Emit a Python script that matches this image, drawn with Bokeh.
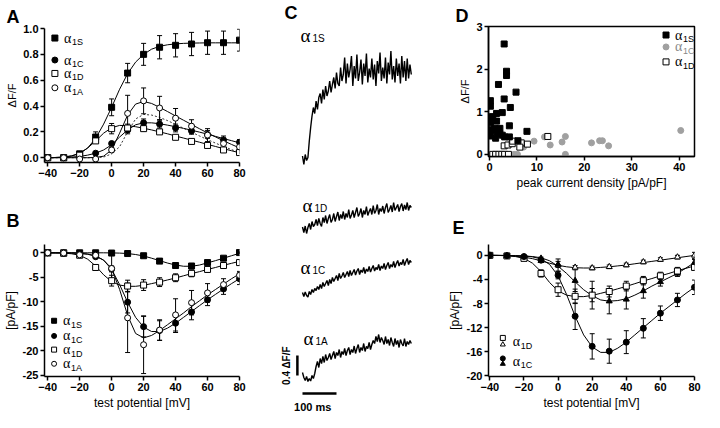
import math
from bokeh.plotting import figure
from bokeh.models import (ColumnDataSource, Whisker, TeeHead, Range1d, FixedTicker,
                          PrintfTickFormatter)
from bokeh.layouts import row, column
from bokeh.core.properties import value
from bokeh.embed import file_html
from bokeh.resources import INLINE

SANS = "Liberation Sans"
SERIF = "Liberation Serif"
GREY = "#a0a0a0"

# ---------------- data ----------------
V = [-40, -30, -20, -10, 0, 10, 20, 30, 40, 50, 60, 70, 80]
VC = [-40, -35, -30, -25, -20, -15, -10, -5, 0, 5, 10, 15, 20, 25, 30, 35, 40, 45, 50, 55, 60, 65, 70, 75, 80]

# Panel A: dF/F vs test potential
A_s = [0.0, 0.0, 0.03, 0.16, 0.39, 0.655, 0.80, 0.855, 0.87, 0.88, 0.89, 0.89, 0.91]
A_s_err = [0, 0, 0.01, 0.04, 0.065, 0.075, 0.085, 0.09, 0.09, 0.09, 0.09, 0.09, 0.085]
A_c = [0.0, 0.0, 0.01, 0.035, 0.11, 0.215, 0.27, 0.26, 0.23, 0.207, 0.18, 0.138, 0.12]
A_c_err = [0, 0, 0, 0.005, 0.01, 0.03, 0.03, 0.03, 0.03, 0.025, 0.03, 0.03, 0.02]
A_d = [0.0, 0.0, 0.02, 0.13, 0.225, 0.23, 0.225, 0.20, 0.158, 0.126, 0.095, 0.06, 0.04]
A_d_err = [0, 0, 0.005, 0.02, 0.04, 0.03, 0.02, 0.015, 0.015, 0.01, 0.01, 0.01, 0.01]
A_a = [0.0, 0.0, -0.01, -0.01, 0.06, 0.343, 0.44, 0.385, 0.306, 0.244, 0.175, 0.11, 0.084]
A_a_err = [0, 0, 0, 0, 0.02, 0.14, 0.10, 0.09, 0.075, 0.05, 0.05, 0.035, 0.03]

A_s_fit = [0.0, 0.002, 0.005, 0.013, 0.032, 0.075, 0.15, 0.26, 0.39, 0.53, 0.65, 0.74, 0.80,
           0.84, 0.862, 0.874, 0.881, 0.885, 0.887, 0.888, 0.889, 0.889, 0.889, 0.889, 0.889]
A_c_fit = [0.0, 0.001, 0.002, 0.005, 0.01, 0.02, 0.035, 0.06, 0.10, 0.16, 0.215, 0.255, 0.27,
           0.27, 0.263, 0.252, 0.24, 0.227, 0.213, 0.198, 0.182, 0.165, 0.148, 0.132, 0.115]
A_d_fit = [0.0, 0.002, 0.005, 0.015, 0.035, 0.075, 0.13, 0.19, 0.232, 0.25, 0.248, 0.24, 0.228,
           0.215, 0.2, 0.185, 0.168, 0.152, 0.136, 0.12, 0.103, 0.087, 0.07, 0.054, 0.038]
A_a_fit = [0.0, 0.0, 0.0, 0.0, 0.0, 0.0, 0.002, 0.012, 0.06, 0.19, 0.33, 0.415, 0.435,
           0.42, 0.39, 0.357, 0.323, 0.29, 0.257, 0.224, 0.192, 0.161, 0.131, 0.103, 0.076]
A_dash_fit = [0.0, 0.0, 0.0, 0.0, 0.0, 0.0, 0.0, 0.005, 0.03, 0.085, 0.2, 0.3, 0.335,
              0.33, 0.312, 0.287, 0.258, 0.228, 0.198, 0.168, 0.14, 0.113, 0.087, 0.063, 0.04]

# Panel B / E: current density
B_s = [0, 0, 0, 0, -0.05, -0.15, -0.6, -1.7, -2.6, -2.7, -2.0, -1.1, 0.05]
B_s_err = [0, 0, 0, 0, 0.05, 0.1, 0.15, 0.2, 0.25, 0.25, 0.2, 0.2, 0.15]
B_c = [0, -0.05, -0.2, -0.8, -3.3, -10.1, -15.1, -15.9, -14.4, -12.1, -9.6, -7.4, -5.3]
B_c_err = [0, 0, 0.1, 0.3, 0.6, 2.2, 2.1, 2.0, 1.9, 1.6, 1.2, 1.1, 1.2]
B_d = [0, -0.1, -0.5, -3.0, -5.7, -6.8, -6.6, -6.0, -5.1, -4.2, -3.4, -2.6, -2.0]
B_d_err = [0, 0.1, 0.2, 0.6, 1.1, 1.2, 1.1, 0.9, 0.8, 0.7, 0.6, 0.6, 0.5]
B_a = [0, -0.05, -0.4, -0.5, -3.2, -13.3, -18.8, -15.8, -12.7, -10.2, -8.2, -6.5, -4.6]
B_a_err = [0, 0, 0.2, 0.3, 2.9, 7.1, 5.9, 2.1, 3.3, 2.5, 1.9, 1.2, 0.8]

B_s_fit = [0, 0, 0, 0, 0, 0, 0, 0, -0.02, -0.06, -0.15, -0.35, -0.65,
           -1.1, -1.6, -2.1, -2.5, -2.75, -2.75, -2.5, -2.05, -1.6, -1.1, -0.6, -0.1]
B_c_fit = [0, -0.01, -0.02, -0.05, -0.1, -0.25, -0.6, -1.5, -3.4, -6.5, -10.1, -13.2, -15.2,
           -16.1, -16.1, -15.4, -14.4, -13.2, -12.0, -10.8, -9.6, -8.5, -7.4, -6.3, -5.3]
B_a_fit = [0, 0, -0.01, -0.03, -0.1, -0.3, -0.7, -1.5, -3.2, -7.5, -12.8, -16.5, -17.4,
           -16.9, -15.9, -14.7, -13.5, -12.3, -11.0, -9.8, -8.6, -7.5, -6.4, -5.3, -4.3]
B_d_fit = [0, -0.02, -0.05, -0.2, -0.5, -1.3, -2.7, -4.5, -5.9, -6.6, -6.85, -6.85, -6.65,
           -6.3, -5.95, -5.55, -5.15, -4.7, -4.25, -3.85, -3.4, -3.0, -2.55, -2.15, -1.75]

E_d_tri = [0, -0.1, -0.4, -0.9, -1.6, -2.0, -2.1, -1.9, -1.6, -1.1, -0.7, -0.3, 0.0]
E_d_tri_err = [0, 0.05, 0.1, 0.2, 1.0, 0.3, 0.3, 0.3, 0.3, 0.3, 0.3, 0.3, 0.5]
E_c_tri = [0, -0.1, -0.3, -0.5, -1.5, -4.2, -6.6, -7.6, -7.3, -5.9, -4.4, -3.0, -1.2]
E_c_tri_err = [0, 0, 0.1, 0.2, 0.5, 1.8, 2.3, 2.1, 1.6, 1.2, 0.7, 0.5, 0.5]
E_d_tri_fit = [0, -0.02, -0.05, -0.15, -0.3, -0.55, -0.9, -1.3, -1.65, -1.9, -2.05, -2.1, -2.1,
               -2.0, -1.9, -1.75, -1.6, -1.4, -1.2, -1.0, -0.8, -0.6, -0.4, -0.2, 0.0]
E_c_tri_fit = [0, 0, -0.02, -0.05, -0.1, -0.2, -0.4, -0.9, -1.8, -3.0, -4.4, -5.7, -6.7,
               -7.4, -7.6, -7.5, -7.2, -6.6, -5.9, -5.1, -4.4, -3.7, -3.0, -2.1, -1.2]

# Panel C: fluorescence traces (dF/F relative to start), time in ms
T = list(range(0, 321, 4))
TR_1S = [0.05, -0.12, 0.08, -0.04, 0.02, 0.35, 0.62, 0.85, 1.02, 0.9,
         1.15, 0.98, 1.22, 1.3, 1.1, 1.38, 1.18, 1.45, 1.25, 1.35,
         1.55, 1.32, 1.48, 1.62, 1.4, 1.72, 1.5, 1.45, 1.82, 1.55,
         1.68, 2.02, 1.5, 1.9, 1.62, 1.78, 2.05, 1.45, 1.85, 1.6,
         2.08, 1.55, 1.72, 1.98, 1.48, 1.9, 1.65, 2.1, 1.52, 1.8,
         1.62, 2.0, 1.58, 1.88, 1.45, 1.95, 1.7, 2.12, 1.55, 1.82,
         1.6, 2.02, 1.5, 1.92, 1.68, 2.15, 1.58, 1.85, 1.52, 2.0,
         1.65, 1.9, 1.5, 2.05, 1.62, 1.95, 1.55, 2.0, 1.6, 1.88, 1.68]
TR_1D = [0.03, -0.08, 0.05, -0.1, 0.02, 0.1, -0.02, 0.14, 0.04, 0.08,
         0.18, 0.06, 0.2, 0.1, 0.04, 0.22, 0.12, 0.26, 0.1, 0.2,
         0.28, 0.12, 0.18, 0.3, 0.14, 0.24, 0.33, 0.16, 0.28, 0.2,
         0.34, 0.18, 0.3, 0.22, 0.38, 0.2, 0.27, 0.36, 0.22, 0.32,
         0.42, 0.24, 0.3, 0.4, 0.22, 0.36, 0.28, 0.44, 0.26, 0.34,
         0.4, 0.28, 0.46, 0.3, 0.36, 0.48, 0.28, 0.4, 0.34, 0.45,
         0.3, 0.42, 0.5, 0.32, 0.38, 0.46, 0.33, 0.52, 0.36, 0.42,
         0.48, 0.34, 0.44, 0.5, 0.35, 0.47, 0.38, 0.52, 0.36, 0.46, 0.42]
TR_1C = [0.02, -0.06, 0.03, -0.04, -0.07, 0.04, -0.02, 0.08, 0.02, 0.1,
         0.06, 0.14, 0.08, 0.18, 0.1, 0.22, 0.14, 0.2, 0.26, 0.16,
         0.28, 0.2, 0.32, 0.24, 0.3, 0.36, 0.26, 0.4, 0.3, 0.35,
         0.42, 0.32, 0.38, 0.44, 0.34, 0.46, 0.36, 0.42, 0.48, 0.37,
         0.45, 0.5, 0.38, 0.47, 0.42, 0.52, 0.4, 0.49, 0.44, 0.54,
         0.43, 0.5, 0.56, 0.45, 0.52, 0.48, 0.58, 0.46, 0.55, 0.5,
         0.6, 0.48, 0.56, 0.62, 0.5, 0.58, 0.53, 0.64, 0.52, 0.6,
         0.66, 0.55, 0.62, 0.58, 0.68, 0.56, 0.64, 0.7, 0.58, 0.66, 0.62]
TR_1A = [0.02, -0.08, -0.14, -0.06, -0.16, -0.1, -0.15, -0.04, -0.1, 0.0,
         0.14, 0.24, 0.12, 0.3, 0.2, 0.34, 0.22, 0.38, 0.26, 0.32,
         0.4, 0.28, 0.36, 0.44, 0.3, 0.42, 0.36, 0.48, 0.32, 0.44,
         0.38, 0.5, 0.36, 0.46, 0.52, 0.38, 0.48, 0.42, 0.55, 0.4,
         0.5, 0.58, 0.42, 0.52, 0.46, 0.6, 0.44, 0.54, 0.5, 0.62,
         0.48, 0.58, 0.66, 0.6, 0.74, 0.64, 0.78, 0.62, 0.72, 0.66,
         0.58, 0.74, 0.6, 0.68, 0.56, 0.72, 0.62, 0.54, 0.7, 0.58,
         0.66, 0.52, 0.68, 0.6, 0.55, 0.7, 0.54, 0.64, 0.58, 0.66, 0.6]
SCALE_DF = 0.4
SCALE_MS = 100

# Panel D: dF/F vs peak current density
D_s_x = [3.1, 3.6, 3.6, 1.9, 5.6, 0.2, 0.2, 3.1, 4.4, 2.7, 1.5, 0.2, 0.7, 0.2, 1.5,
         0.5, 4.2, 0.2, 1.1, 2.2, 7.9, 0.2, 1.3, 2.2, 2.7, 3.2, 4.2, 6.0, 0.5, 1.7]
D_s_y = [2.59, 1.95, 1.85, 1.64, 1.46, 1.26, 1.13, 1.30, 1.10, 0.98, 0.96, 0.88, 0.88, 0.75, 0.78,
         0.81, 0.67, 0.56, 0.61, 0.61, 0.54, 0.43, 0.38, 0.48, 0.45, 0.41, 0.41, 0.32, 0.58, 0.51]
D_c_x = [40.3, 16.0, 15.3, 11.6, 12.8, 9.4, 7.2, 21.5, 23.2, 23.8, 25.1, 16.0, 5.9, 5.2]
D_c_y = [0.56, 0.42, 0.29, 0.41, 0.22, 0.31, 0.17, 0.27, 0.32, 0.32, 0.20, 0.0, 0.0, 0.0]
D_d_x = [12.3, 3.1, 3.9, 4.8, 4.9, 6.7, 6.4, 8.0, 0.7, 1.3, 2.0, 2.6, 3.2, 4.0]
D_d_y = [0.42, 0.20, 0.22, 0.25, 0.31, 0.27, 0.17, 0.24, 0, 0, 0, 0, 0, 0]

X_TICKS = [-40, -20, 0, 20, 40, 60, 80]


# ---------------- helpers ----------------
def make_fig(w, h, xr, yr, bl, br, bt, bb, xlabel=None, ylabel=None):
    p = figure(width=w, height=h, x_range=Range1d(*xr), y_range=Range1d(*yr),
               output_backend="svg", toolbar_location=None,
               min_border_left=bl, min_border_right=br, min_border_top=bt, min_border_bottom=bb)
    p.xgrid.visible = False
    p.ygrid.visible = False
    p.outline_line_color = None
    for ax in (p.xaxis[0], p.yaxis[0]):
        ax.axis_line_width = 1.5
        ax.axis_line_color = "black"
        ax.major_tick_line_width = 1.5
        ax.major_tick_line_color = "black"
        ax.major_tick_out = 4
        ax.major_tick_in = 0
        ax.minor_tick_line_color = None
        ax.major_label_text_font = SANS
        ax.major_label_text_font_style = "bold"
        ax.major_label_text_font_size = "11px"
        ax.major_label_text_color = "black"
        ax.major_label_standoff = 2
        ax.axis_label_text_font = SANS
        ax.axis_label_text_font_style = "normal"
        ax.axis_label_text_font_size = "12px"
        ax.axis_label_text_color = "black"
        ax.axis_label_standoff = 2
    if xlabel:
        p.xaxis.axis_label = xlabel
    if ylabel:
        p.yaxis.axis_label = ylabel
    return p


def letter(p, t, offset, standoff):
    p.title.text = t
    p.title.align = "left"
    p.title.offset = offset
    p.title.standoff = standoff
    p.title.text_font = SANS
    p.title.text_font_style = "bold"
    p.title.text_font_size = "18px"
    p.title.text_color = "black"


def series(p, x, y, err, marker, fill, line="black", size=6):
    ex = [a for a, e in zip(x, err) if e > 0]
    lo = [b - e for b, e in zip(y, err) if e > 0]
    hi = [b + e for b, e in zip(y, err) if e > 0]
    src = ColumnDataSource(dict(x=ex, lo=lo, hi=hi))
    w = Whisker(base="x", lower="lo", upper="hi", source=src, line_color=line, line_width=1,
                upper_head=TeeHead(size=5, line_width=1, line_color=line),
                lower_head=TeeHead(size=5, line_width=1, line_color=line))
    p.add_layout(w)
    p.scatter(x, y, marker=marker, size=size, fill_color=fill, line_color=line, line_width=1)


def leg_text(p, x, y, sub, dx=10, color="black", asize="14px", ssize="9px", sdx=8, sdy=4):
    p.text([x], [y], text=["α"], x_offset=dx, text_baseline="middle", text_color=color,
           text_font=value(SERIF), text_font_size=asize)
    p.text([x], [y], text=[sub], x_offset=dx + sdx, y_offset=sdy, text_baseline="middle",
           text_color=color, text_font=value(SANS), text_font_size=ssize)


def leg_marker(p, x, y, marker, fill, line="black", size=6):
    p.scatter([x], [y], marker=marker, size=size, fill_color=fill, line_color=line, line_width=1)


# ---------------- Panel A ----------------
pA = make_fig(262, 184, (-42, 80), (-0.037, 1.0), 40, 23, 28, 22, ylabel="ΔF/F")
letter(pA, "A", -38, 3)
pA.xaxis.ticker = FixedTicker(ticks=X_TICKS, minor_ticks=[])
pA.yaxis.ticker = FixedTicker(ticks=[0, 0.2, 0.4, 0.6, 0.8, 1.0], minor_ticks=[])
pA.yaxis.formatter = PrintfTickFormatter(format="%.1f")
pA.yaxis.axis_label_text_font_size = "11px"
for fit in (A_s_fit, A_c_fit, A_d_fit, A_a_fit):
    pA.line(VC, fit, line_color="black", line_width=1)
pA.line(VC, A_dash_fit, line_color="black", line_width=0.8, line_dash="2 2")
series(pA, V, A_s, A_s_err, "square", "black")
series(pA, V, A_c, A_c_err, "circle", "black")
series(pA, V, A_d, A_d_err, "square", "white")
series(pA, V, A_a, A_a_err, "circle", "white")
for yy, mk, fl, sb in ((0.926, "square", "black", "1S"), (0.756, "circle", "black", "1C"),
                       (0.652, "square", "white", "1D"), (0.541, "circle", "white", "1A")):
    leg_marker(pA, -35.5, yy, mk, fl)
    leg_text(pA, -35.5, yy, sb, dx=9)

# ---------------- Panel B ----------------
pB = make_fig(262, 228, (-42, 80), (-25.3, 1.7), 40, 23, 60, 36,
              xlabel="test potential [mV]", ylabel="[pA/pF]")
letter(pB, "B", -38, 28)
pB.xaxis.ticker = FixedTicker(ticks=X_TICKS, minor_ticks=[])
pB.yaxis.ticker = FixedTicker(ticks=[0, -5, -10, -15, -20, -25], minor_ticks=[])
pB.yaxis.formatter = PrintfTickFormatter(format="%d")
for fit in (B_s_fit, B_c_fit, B_a_fit, B_d_fit):
    pB.line(VC, fit, line_color="black", line_width=1)
series(pB, V, B_s, B_s_err, "square", "black")
series(pB, V, B_c, B_c_err, "circle", "black")
series(pB, V, B_d, B_d_err, "square", "white")
series(pB, V, B_a, B_a_err, "circle", "white")
for yy, mk, fl, sb in ((-13.9, "square", "black", "1S"), (-17.0, "circle", "black", "1C"),
                       (-19.8, "square", "white", "1D"), (-22.7, "circle", "white", "1A")):
    leg_marker(pB, -36, yy, mk, fl, size=5)
    leg_text(pB, -36, yy, sb, dx=9)

# ---------------- Panel C ----------------
pC = figure(width=150, height=412, x_range=Range1d(-117.6, 323.5), y_range=Range1d(0, 8.24),
            x_axis_type=None, y_axis_type=None, output_backend="svg", toolbar_location=None,
            min_border=0)
pC.outline_line_color = None
pC.xgrid.visible = False
pC.ygrid.visible = False
traces = [(TR_1S, 5.08, "1S", -6, 7.54), (TR_1D, 3.68, "1D", 0, 4.14),
          (TR_1C, 2.38, "1C", -6, 2.9), (TR_1A, 0.78, "1A", 3, 1.48)]
for tr, off, sb, lx, ly in traces:
    pC.line(T, [v + off for v in tr], line_color="black", line_width=1.4)
    pC.text([lx], [ly], text=["α"], text_baseline="alphabetic", text_font=value(SERIF),
            text_font_size="19px")
    pC.text([lx], [ly], text=[sb], x_offset=12, y_offset=3, text_baseline="alphabetic",
            text_font=value(SANS), text_font_size="10px")
pC.text([-53], [8.2], text=["C"], text_baseline="top", text_font=value(SANS),
        text_font_style="bold", text_font_size="18px")
pC.line([-15, -15], [0.74, 0.74 + SCALE_DF], line_color="black", line_width=2.5)
pC.line([0, SCALE_MS], [0.38, 0.38], line_color="black", line_width=2.5)
pC.text([-47], [0.94], text=["0.4 ΔF/F"], angle=math.pi / 2, text_align="center",
        text_baseline="middle", text_font=value(SANS), text_font_style="bold", text_font_size="10px")
pC.text([30], [0.12], text=["100 ms"], text_align="center", text_baseline="middle",
        text_font=value(SANS), text_font_style="bold", text_font_size="11px")

# ---------------- Panel D ----------------
pD = make_fig(292, 192, (-0.2, 43.2), (-0.05, 3.0), 73, 4, 26, 33,
              xlabel="peak current density [pA/pF]", ylabel="ΔF/F")
letter(pD, "D", -33, 2)
pD.outline_line_color = "black"
pD.outline_line_width = 1.5
pD.xaxis.ticker = FixedTicker(ticks=[0, 10, 20, 30, 40], minor_ticks=[])
pD.yaxis.ticker = FixedTicker(ticks=[0, 1, 2, 3], minor_ticks=[])
pD.yaxis.axis_label_text_font_size = "11px"
pD.scatter(D_c_x, D_c_y, marker="circle", size=6, fill_color=GREY, line_color=GREY)
pD.scatter(D_d_x, D_d_y, marker="square", size=6, fill_color="white", line_color="black")
pD.scatter(D_s_x, D_s_y, marker="square", size=6, fill_color="black", line_color="black")
leg_marker(pD, 37.2, 2.80, "square", "black")
leg_text(pD, 37.2, 2.80, "1S", dx=9)
leg_marker(pD, 37.2, 2.52, "circle", GREY, line=GREY)
leg_text(pD, 37.2, 2.52, "1C", dx=9, color="#888888")
leg_marker(pD, 37.2, 2.17, "square", "white")
leg_text(pD, 37.2, 2.17, "1D", dx=9)

# ---------------- Panel E ----------------
pE = make_fig(292, 220, (-40.8, 80), (-20.1, 1.8), 76, 10, 52, 36,
              xlabel="test potential [mV]", ylabel="[pA/pF]")
letter(pE, "E", -36, 13)
pE.xaxis.ticker = FixedTicker(ticks=X_TICKS, minor_ticks=[])
pE.yaxis.ticker = FixedTicker(ticks=[0, -4, -8, -12, -16, -20], minor_ticks=[])
pE.yaxis.formatter = PrintfTickFormatter(format="%d")
for fit in (B_d_fit, E_d_tri_fit, B_c_fit, E_c_tri_fit):
    pE.line(VC, fit, line_color="black", line_width=1)
series(pE, V, E_d_tri, E_d_tri_err, "triangle", "white")
series(pE, V, E_c_tri, E_c_tri_err, "triangle", "black")
series(pE, V, B_d, B_d_err, "square", "white")
series(pE, V, B_c, B_c_err, "circle", "black")
leg_marker(pE, -32.4, -13.7, "square", "white", size=5)
leg_marker(pE, -32.4, -14.8, "triangle", "white", size=5)
leg_text(pE, -32.4, -14.3, "1D", dx=10)
leg_marker(pE, -32.4, -17.1, "circle", "black", size=5)
leg_marker(pE, -32.4, -18.0, "triangle", "black", size=5)
leg_text(pE, -32.4, -17.6, "1C", dx=10)

layout = row(column(pA, pB), pC, column(pD, pE))
open("out.html", "w").write(file_html(layout, INLINE))
